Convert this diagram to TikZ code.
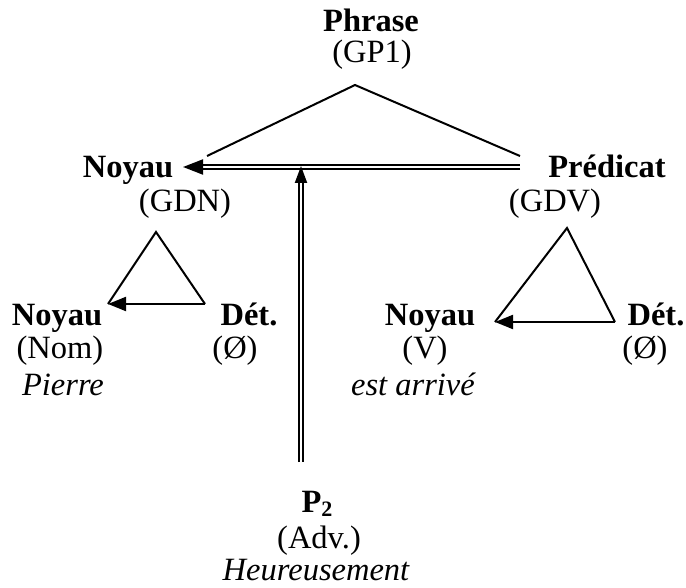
\documentclass[tikz,border=0pt]{standalone}
\usepackage{fontspec}
\setmainfont{Liberation Serif}
\usetikzlibrary{arrows.meta}
\begin{document}
\begin{tikzpicture}[x=1pt,y=-1pt,
  lab/.style={anchor=base,inner sep=0pt,font=\fontsize{32.5}{38}\selectfont},
  hd/.style={lab,font=\fontsize{32.5}{38}\selectfont\bfseries},
  ex/.style={lab,font=\fontsize{32.5}{38}\selectfont\itshape},
  flat/.style={text depth=0pt},
  edge/.style={line width=2pt,line join=miter},
  tip/.style={line width=2pt,-{Triangle[length=18pt,width=14pt]}},
  dbl/.style={double,double distance=2.4pt,line width=2pt}
]
\useasboundingbox (0,0) rectangle (686,588);

% labels
\node[hd]  (phrase)   at (371,32)  {Phrase};
\node[lab] (gp1)      at (372,63)  {(GP1)};
\node[hd]  (noyau)    at (128,178) {Noyau};
\node[lab] (gdn)      at (185,212) {(GDN)};
\node[hd]  (pred)     at (607,178) {Prédicat};
\node[lab] (gdv)      at (555,212) {(GDV)};
\node[hd]  (noyaunom) at (57,326)  {Noyau};
\node[lab] (nom)      at (60,359)  {(Nom)};
\node[ex]  (pierre)   at (63,395)  {Pierre};
\node[hd]  (detA)     at (249,326) {Dét.};
\node[lab] (detAv)    at (235,359) {(Ø)};
\node[hd]  (noyauv)   at (430,326) {Noyau};
\node[lab] (vv)       at (425,359) {(V)};
\node[ex]  (arrive)   at (413,395) {est arrivé};
\node[hd]  (detB)     at (656,326) {Dét.};
\node[lab] (detBv)    at (645,359) {(Ø)};
\node[hd,flat]  (ptwo) at (317,512) {P\raisebox{-4pt}{\fontsize{22}{24}\selectfont 2}};
\node[lab,flat] (adv)  at (319,548) {(Adv.)};
\node[ex]  (heur)     at (316,580) {Heureusement};

% triangle vertices
\coordinate (tA)  at (355,85);
\coordinate (tL)  at (207,156);
\coordinate (tR)  at (520,156);
\coordinate (lA)  at (156,232);
\coordinate (lL)  at (108,304);
\coordinate (lR)  at (205,304);
\coordinate (rA)  at (567,228);
\coordinate (rL)  at (495,322);
\coordinate (rR)  at (615,322);

% double connectors
\coordinate (hR)   at (520,167);
\coordinate (hM)   at (200,167);
\coordinate (hTip) at (183,167);
\coordinate (vB)   at (301,462);
\coordinate (vM)   at (301,181);
\coordinate (vTip) at (301,166);

% sentence triangle and link to the core
\draw[edge] (tL) -- (tA) -- (tR);
\draw[dbl] (hR) -- (hM);
\draw[tip,-{Triangle[length=20pt,width=15pt]}] (hM) -- (hTip);

% adverbial link
\draw[dbl] (vB) -- (vM);
\draw[tip,-{Triangle[length=17pt,width=12pt]}] (vM) -- (vTip);

% noun group
\draw[edge] (lL) -- (lA) -- (lR);
\draw[tip] (lR) -- (lL);

% verb group
\draw[edge] (rL) -- (rA) -- (rR);
\draw[tip] (rR) -- (rL);
\end{tikzpicture}
\end{document}
